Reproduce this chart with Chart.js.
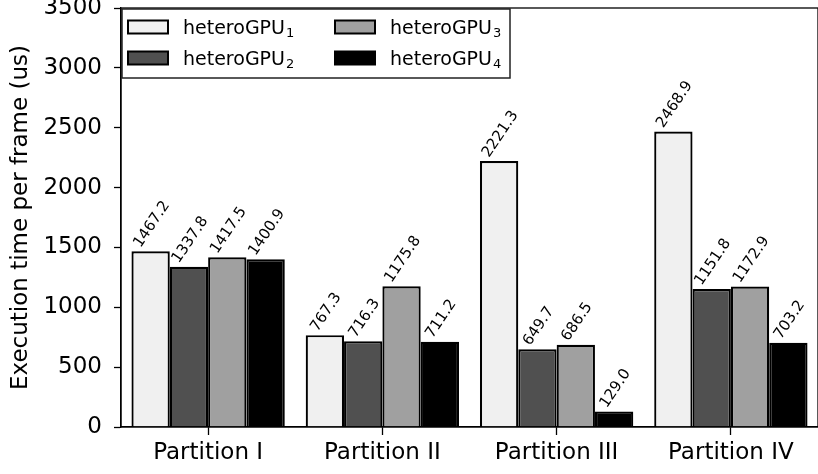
<!DOCTYPE html>
<html>
<head>
<meta charset="utf-8">
<script src="https://cdn.jsdelivr.net/npm/chart.js@4"></script>
<style>
  html, body { margin: 0; padding: 0; background: #fff; }
  #wrap { width: 818px; height: 474px; }
</style>
</head>
<body>
<div id="wrap"><canvas id="myChart" width="818" height="474"></canvas></div>
<script>
const ctx = document.getElementById("myChart").getContext("2d");

// categories and series
const partitions = ["Partition I", "Partition II", "Partition III", "Partition IV"];
const seriesNames = ["heteroGPU", "heteroGPU", "heteroGPU", "heteroGPU"];
const seriesSubs = ["1", "2", "3", "4"];
const gpu1 = [1467.2, 767.3, 2221.3, 2468.9];
const gpu2 = [1337.8, 716.3, 649.7, 1151.8];
const gpu3 = [1417.5, 1175.8, 686.5, 1172.9];
const gpu4 = [1400.9, 711.2, 129.0, 703.2];
const yTicks = [0, 500, 1000, 1500, 2000, 2500, 3000, 3500];

const fills = ["#f0f0f0", "#505050", "#a0a0a0", "#000000"];
const FONT = "'DejaVu Sans', sans-serif";

const data = {
  labels: partitions,
  datasets: [gpu1, gpu2, gpu3, gpu4].map((vals, i) => ({
    label: seriesNames[i] + seriesSubs[i],
    data: vals,
    backgroundColor: fills[i],
    borderColor: "#000",
    borderWidth: 2.2,
    borderSkipped: "bottom",
    categoryPercentage: 0.88,
    barPercentage: 1.0,
  })),
};

// value labels rotated above each bar
const barLabels = {
  id: "barLabels",
  afterDatasetsDraw(chart) {
    const c = chart.ctx;
    const size = 15;
    const ang = 56 * Math.PI / 180;
    c.save();
    c.font = size + "px " + FONT;
    c.fillStyle = "#000";
    chart.data.datasets.forEach((ds, di) => {
      chart.getDatasetMeta(di).data.forEach((bar, i) => {
        const txt = ds.data[i].toFixed(1);
        const w = c.measureText(txt).width;
        const cap = size * 0.73;
        const boxH = w * Math.sin(ang) + cap * Math.cos(ang);
        const cx = bar.x;
        const cy = bar.y - 3 - boxH / 2;
        c.save();
        c.translate(cx, cy);
        c.rotate(-ang);
        c.textAlign = "left";
        c.textBaseline = "alphabetic";
        c.fillText(txt, -w / 2, cap / 2);
        c.restore();
      });
    });
    c.restore();
  },
};

// frame around plot area and legend box with subscripts
const frameLegend = {
  id: "frameLegend",
  afterDraw(chart) {
    const c = chart.ctx;
    const a = chart.chartArea;
    c.save();
    c.strokeStyle = "#000";
    c.lineWidth = 1.3;
    c.strokeRect(a.left, a.top, a.right - a.left, a.bottom - a.top);

    // legend
    c.fillStyle = "#fff";
    c.fillRect(122, 9, 388, 69);
    c.strokeStyle = "#222";
    c.lineWidth = 1.5;
    c.strokeRect(122, 9, 388, 69);
    const pos = [[128, 27], [128, 58], [335, 27], [335, 58]];
    pos.forEach((p, i) => {
      c.fillStyle = fills[i];
      c.fillRect(p[0], p[1] - 6.5, 40, 13);
      c.strokeStyle = "#000";
      c.lineWidth = 2;
      c.strokeRect(p[0], p[1] - 6.5, 40, 13);
      c.fillStyle = "#000";
      c.textBaseline = "alphabetic";
      c.textAlign = "left";
      c.font = "19px " + FONT;
      const base = p[1] + 7;
      c.fillText(seriesNames[i], p[0] + 55, base);
      const w = c.measureText(seriesNames[i]).width;
      c.font = "13px " + FONT;
      c.fillText(seriesSubs[i], p[0] + 55 + w + 1, base + 3);
    });
    c.restore();
  },
};

const config = {
  type: "bar",
  data: data,
  options: {
    responsive: false,
    animation: false,
    layout: { padding: { top: 8, right: -2, left: 0, bottom: 0 } },
    plugins: {
      legend: { display: false },
      tooltip: { enabled: false },
    },
    scales: {
      x: {
        offset: true,
        grid: {
          offset: false,
          drawOnChartArea: false,
          tickLength: 8,
          tickColor: "#000",
          tickWidth: 1.3,
        },
        border: { color: "#000", width: 1.3 },
        ticks: {
          color: "#000",
          padding: 4,
          font: { family: FONT, size: 23 },
          maxRotation: 0,
        },
        afterFit(scale) {
          scale.height = 47;
          scale.paddingLeft = 0;
          scale.paddingRight = 0;
        },
      },
      y: {
        min: 0,
        max: 3500,
        afterBuildTicks(scale) {
          scale.ticks = yTicks.map((v) => ({ value: v }));
        },
        grid: {
          drawOnChartArea: false,
          tickLength: 7,
          tickColor: "#000",
          tickWidth: 1.3,
        },
        border: { color: "#000", width: 1.3 },
        ticks: {
          color: "#000",
          padding: 12,
          font: { family: FONT, size: 23 },
          callback: function (value) {
            return String(value);
          },
        },
        title: {
          display: true,
          text: "Execution time per frame (us)",
          color: "#000",
          font: { family: FONT, size: 23 },
          padding: { top: 7, bottom: 0 },
        },
        afterFit(scale) {
          scale.width = 121;
          scale.paddingTop = 0;
          scale.paddingBottom = 0;
        },
      },
    },
  },
  plugins: [barLabels, frameLegend],
};

const myChart = new Chart(ctx, config);
</script>
</body>
</html>
